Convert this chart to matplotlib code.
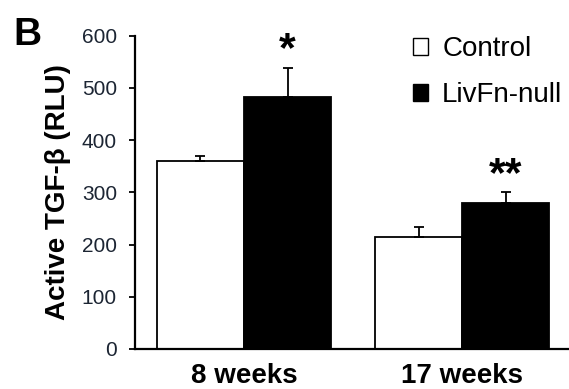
import matplotlib
matplotlib.use("Agg")
import matplotlib.pyplot as plt
from matplotlib.patches import Patch
import numpy as np

plt.rcParams['font.family'] = ['Liberation Sans', 'DejaVu Sans']

groups = ["8 weeks", "17 weeks"]
series_names = ["Control", "LivFn-null"]
control_vals = [360, 215]
control_err = [10, 18]
livfn_vals = [483, 280]
livfn_err = [56, 20]
signif = ["*", "**"]
yticks = [0, 100, 200, 300, 400, 500, 600]

W, H = 569, 389
fig = plt.figure(figsize=(W / 100, H / 100), dpi=100)
ax = fig.add_axes([135 / W, 1 - 349 / H, 1 - 135 / W, (349 - 35.7) / H])

x = np.arange(len(groups))
bw = 0.4
ekw = dict(elinewidth=1.3, capthick=1.3, ecolor='black')
ax.bar(x - bw / 2, control_vals, bw, color='white', edgecolor='black', linewidth=1.3,
       yerr=[np.zeros(len(groups)), control_err], capsize=3.5, error_kw=ekw, label=series_names[0], zorder=2)
ax.bar(x + bw / 2, livfn_vals, bw, color='black', edgecolor='black', linewidth=1.3,
       yerr=[np.zeros(len(groups)), livfn_err], capsize=3.5, error_kw=ekw, label=series_names[1], zorder=2)

for i, s in enumerate(signif):
    ax.annotate(s, (x[i] + bw / 2, livfn_vals[i] + livfn_err[i]), xytext=(0, -2),
                textcoords='offset points', ha='center', va='bottom',
                fontsize=31, fontweight='bold')

ax.set_xlim(-0.5, 1.49)
ax.set_ylim(0, 600)
ax.set_yticks(yticks)
ax.set_yticklabels([str(v) for v in yticks], fontsize=15, color='#1c2533')
ax.set_xticks(x)
ax.set_xticklabels(groups, fontsize=20, fontweight='bold')
ax.tick_params(axis='x', length=0, pad=10)
ax.tick_params(axis='y', direction='out', length=4, width=1.3, pad=9)
for sp in ['top', 'right']:
    ax.spines[sp].set_visible(False)
for sp in ['left', 'bottom']:
    ax.spines[sp].set_linewidth(1.6)

ax.set_ylabel("Active TGF-β (RLU)", fontsize=20, fontweight='bold', labelpad=8)

handles = [Patch(facecolor='white', edgecolor='black', linewidth=1.0),
           Patch(facecolor='black', edgecolor='black', linewidth=1.0)]
fig.legend(handles, series_names, loc='upper left', bbox_to_anchor=(413 / W, 1 - 36 / H),
           frameon=False, fontsize=20, handlelength=0.55, handleheight=0.55,
           handletextpad=0.5, labelspacing=0.72, borderpad=0, borderaxespad=0)

fig.text(13 / W, 1 - 45 / H, "B", fontsize=28, fontweight='bold', ha='left', va='baseline')

fig.savefig("out.png", dpi=100)
